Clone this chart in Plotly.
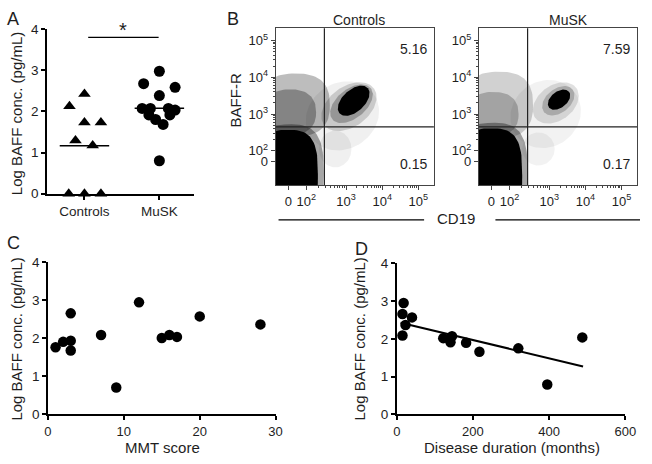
import numpy as np
import plotly.graph_objects as go

W, H = 652, 464

# ---------------- Panel A data ----------------
groups = ["Controls", "MuSK"]
controls_vals = [2.42, 2.12, 1.73, 1.73, 1.29, 1.17, 0.0, 0.0, 0.0]
controls_jitter = [0.0, -0.20, 0.0, 0.22, -0.12, 0.11, -0.21, 0.0, 0.22]
musk_vals = [2.97, 2.67, 2.58, 2.38, 2.07, 2.07, 2.07, 2.03, 1.91, 1.91, 1.80, 1.68, 0.80]
musk_jitter = [0.0, -0.21, 0.21, 0.0, -0.23, -0.12, 0.12, 0.21, -0.14, 0.14, -0.05, 0.05, 0.0]

# ---------------- Panel C data ----------------
mmt_score = [1, 2, 3, 3, 3, 7, 9, 12, 15, 16, 17, 20, 28]
baff_c = [1.77, 1.91, 1.94, 1.68, 2.66, 2.09, 0.71, 2.95, 2.01, 2.09, 2.04, 2.58, 2.37]

# ---------------- Panel D data ----------------
duration = [18, 15, 15, 23, 40, 122, 141, 145, 182, 217, 319, 395, 487]
baff_d = [2.95, 2.66, 2.09, 2.37, 2.57, 2.02, 1.91, 2.07, 1.90, 1.66, 1.75, 0.79, 2.04]

# ---------------- Panel B (flow) data, in display units ----------------
flow_tick_text = ["0", "10<sup>2</sup>", "10<sup>3</sup>", "10<sup>4</sup>", "10<sup>5</sup>"]
flow_x_tickvals = [0, 0.5, 1.6, 2.6, 3.6]
flow_y_tickvals = [0, 0.3, 1.3, 2.3, 3.3]
flow_titles = ["Controls", "MuSK"]
pct_upper_right = ["5.16", "7.59"]
pct_lower_right = ["0.15", "0.17"]
gate_cd19 = 1.0
gate_baffr = 0.95

# cell populations (density blobs): centre, spread, tilt, squareness, density
ctrl_cx = [1.50, 1.30, 0.20, 0.05, 1.68, 1.75, 0.03, 0.00, 1.81]
ctrl_cy = [1.25, 0.35, 1.55, 1.35, 1.50, 1.58, -0.30, -0.35, 1.66]
ctrl_rx = [1.05, 0.45, 0.95, 0.72, 0.85, 0.68, 0.95, 0.82, 0.52]
ctrl_ry = [0.90, 0.50, 0.85, 0.62, 0.55, 0.40, 1.32, 1.22, 0.30]
ctrl_ang = [30, 0, 0, 0, 35, 38, 0, 0, 41]
ctrl_sq = [2.0, 2.0, 2.6, 2.4, 2.0, 2.0, 3.0, 3.0, 2.0]
ctrl_dens = [0.06, 0.06, 0.26, 0.30, 0.16, 0.25, 0.35, 1.0, 1.0]

musk_cx = [1.50, 1.30, 0.20, 0.05, 1.78, 1.85, 0.03, 0.00, 1.87]
musk_cy = [1.30, 0.35, 1.55, 1.30, 1.60, 1.66, -0.30, -0.35, 1.69]
musk_rx = [1.00, 0.45, 0.95, 0.70, 0.70, 0.50, 0.97, 0.85, 0.35]
musk_ry = [0.90, 0.45, 0.90, 0.60, 0.48, 0.33, 1.36, 1.26, 0.22]
musk_ang = [30, 0, 0, 0, 35, 37, 0, 0, 37]
musk_sq = [2.0, 2.0, 2.6, 2.4, 2.0, 2.0, 3.0, 3.0, 2.0]
musk_dens = [0.05, 0.05, 0.18, 0.22, 0.12, 0.20, 0.35, 1.0, 1.0]

FONT = "Liberation Sans, Arial, sans-serif"
TXT = "#1e1e1e"


def px(x):
    return x / W


def py(y):
    return 1 - y / H


def blob(cx, cy, rx, ry, ang, n, m=90):
    t = np.linspace(0, 2 * np.pi, m)
    c, s = np.cos(t), np.sin(t)
    x = np.sign(c) * np.abs(c) ** (2 / n) * rx
    y = np.sign(s) * np.abs(s) ** (2 / n) * ry
    a = np.deg2rad(ang)
    return cx + x * np.cos(a) - y * np.sin(a), cy + x * np.sin(a) + y * np.cos(a)


fig = go.Figure()

# ---------- Panel A ----------
fig.add_trace(go.Scatter(
    x=[1 + j for j in controls_jitter], y=controls_vals, mode="markers",
    marker=dict(symbol="triangle-up", size=11, color="black"),
    xaxis="x", yaxis="y", cliponaxis=False, showlegend=False))
fig.add_trace(go.Scatter(
    x=[2 + j for j in musk_jitter], y=musk_vals, mode="markers",
    marker=dict(symbol="circle", size=11, color="black"),
    xaxis="x", yaxis="y", cliponaxis=False, showlegend=False))
for i, vals in enumerate([controls_vals, musk_vals]):
    m = float(np.mean(vals))
    fig.add_trace(go.Scatter(x=[i + 1 - 0.33, i + 1 + 0.33], y=[m, m], mode="lines",
                             line=dict(color="black", width=1.5), xaxis="x", yaxis="y",
                             showlegend=False))

# ---------- Panel B ----------
for k, (cxs, cys, rxs, rys, angs, sqs, dens) in enumerate([
        (ctrl_cx, ctrl_cy, ctrl_rx, ctrl_ry, ctrl_ang, ctrl_sq, ctrl_dens),
        (musk_cx, musk_cy, musk_rx, musk_ry, musk_ang, musk_sq, musk_dens)]):
    xa, ya = ("x2", "y2") if k == 0 else ("x3", "y3")
    for cx, cy, rx, ry, ang, n, d in zip(cxs, cys, rxs, rys, angs, sqs, dens):
        bx, by = blob(cx, cy, rx, ry, ang, n)
        fig.add_trace(go.Scatter(x=bx, y=by, mode="lines", fill="toself",
                                 fillcolor=f"rgba(0,0,0,{d})", line=dict(width=0),
                                 xaxis=xa, yaxis=ya, showlegend=False, hoverinfo="skip"))
    # gates
    fig.add_trace(go.Scatter(x=[gate_cd19, gate_cd19], y=[-1, 4], mode="lines",
                             line=dict(color="#222", width=1.2), xaxis=xa, yaxis=ya,
                             showlegend=False, hoverinfo="skip"))
    fig.add_trace(go.Scatter(x=[-1, 5], y=[gate_baffr, gate_baffr], mode="lines",
                             line=dict(color="#222", width=1.2), xaxis=xa, yaxis=ya,
                             showlegend=False, hoverinfo="skip"))

# ---------- Panel C ----------
fig.add_trace(go.Scatter(x=mmt_score, y=baff_c, mode="markers",
                         marker=dict(size=10.5, color="black"), xaxis="x4", yaxis="y4",
                         cliponaxis=False, showlegend=False))

# ---------- Panel D ----------
slope, icpt = np.polyfit(duration, baff_d, 1)
xs = np.array([min(duration) - 5, max(duration) + 2])
fig.add_trace(go.Scatter(x=xs, y=slope * xs + icpt, mode="lines",
                         line=dict(color="black", width=2), xaxis="x5", yaxis="y5",
                         showlegend=False))
fig.add_trace(go.Scatter(x=duration, y=baff_d, mode="markers",
                         marker=dict(size=10.5, color="black"), xaxis="x5", yaxis="y5",
                         cliponaxis=False, showlegend=False))

# ---------- Axes ----------
base_ax = dict(showgrid=False, zeroline=False, showline=True, linecolor="black",
               linewidth=1.5, ticks="outside", ticklen=4, tickwidth=1.5, tickcolor="black",
               tickfont=dict(family=FONT, size=13.5, color=TXT), fixedrange=True)
bottom_ax = dict(base_ax, tickfont=dict(family=FONT, size=13, color=TXT))

minor_x = []
for start, span in [(0.5, 1.1), (1.6, 1.0), (2.6, 1.0)]:
    for mult in range(2, 10):
        minor_x.append(start + span * np.log10(mult))
minor_y = []
for start in [0.3, 1.3, 2.3]:
    for mult in range(2, 10):
        minor_y.append(start + np.log10(mult))

flow_x = dict(showgrid=False, zeroline=False, showline=True, mirror=True, linecolor="#444",
              linewidth=1, ticks="outside", ticklen=4, tickcolor="#444",
              range=[-0.35, 4.03], tickvals=flow_x_tickvals, ticktext=flow_tick_text,
              tickfont=dict(family=FONT, size=13, color=TXT), fixedrange=True,
              minor=dict(tickvals=minor_x, ticks="outside", ticklen=2, tickcolor="#444"))
flow_y = dict(showgrid=False, zeroline=False, showline=True, mirror=True, linecolor="#444",
              linewidth=1, ticks="outside", ticklen=4, tickcolor="#444",
              range=[-0.63, 3.63], tickvals=flow_y_tickvals, ticktext=flow_tick_text,
              tickfont=dict(family=FONT, size=13, color=TXT), fixedrange=True,
              minor=dict(tickvals=minor_y, ticks="outside", ticklen=2, tickcolor="#444"))

fig.update_layout(
    width=W, height=H, margin=dict(l=0, r=0, t=0, b=0),
    paper_bgcolor="white", plot_bgcolor="rgba(0,0,0,0)",
    font=dict(family=FONT, color=TXT),
    xaxis=dict(base_ax, domain=[px(44), px(194)], range=[0.5, 2.456], tickvals=[1, 2],
               ticktext=groups, anchor="y"),
    yaxis=dict(base_ax, domain=[py(193), py(22.5)], range=[0, 4], tickvals=[0, 1, 2, 3, 4],
               anchor="x"),
    xaxis2=dict(flow_x, domain=[px(278), px(440)], anchor="y2"),
    yaxis2=dict(flow_y, domain=[py(184), py(22)], anchor="x2"),
    xaxis3=dict(flow_x, domain=[px(486), px(648)], anchor="y3"),
    yaxis3=dict(flow_y, domain=[py(184), py(22)], anchor="x3"),
    xaxis4=dict(bottom_ax, domain=[px(45), px(278)], range=[0, 30], tickvals=[0, 10, 20, 30],
                anchor="y4"),
    yaxis4=dict(base_ax, domain=[py(421), py(264)], range=[0, 4], tickvals=[0, 1, 2, 3, 4],
                anchor="x4"),
    xaxis5=dict(bottom_ax, domain=[px(402), px(636)], range=[0, 600],
                tickvals=[0, 200, 400, 600], anchor="y5"),
    yaxis5=dict(base_ax, domain=[py(421), py(265)], range=[0, 4], tickvals=[0, 1, 2, 3, 4],
                anchor="x5"),
)

ann = []


def text(x, y, s, size=14, angle=0, xanchor="center", yanchor="middle"):
    ann.append(dict(x=px(x), y=py(y), xref="paper", yref="paper", text=s, showarrow=False,
                    font=dict(family=FONT, size=size, color=TXT), textangle=angle,
                    xanchor=xanchor, yanchor=yanchor))


# panel letters
text(9, 12, "A", 18)
text(234, 12, "B", 18)
text(10, 244, "C", 18)
text(366, 250, "D", 18)

# axis titles
ytitle = "Log BAFF conc. (pg/mL)"
text(13, 110, ytitle, 15, -90)
text(13, 343, ytitle, 15, -90)
text(364, 343, ytitle, 15, -90)
text(162, 455, "MMT score", 15)
text(520, 455, "Disease duration (months)", 15)

# significance star
text(122, 24, "*", 20)

# flow texts
text(363, 13, flow_titles[0], 14)
text(578, 13, flow_titles[1], 14)
text(237, 97, "BAFF-R", 15, -90)
text(463, 219, "CD19", 15)
for k, xr in enumerate(["x2", "x3"]):
    ann.append(dict(x=0.97, y=0.93, xref=f"{xr} domain", yref="y2 domain",
                    text=pct_upper_right[k], showarrow=False, xanchor="right",
                    font=dict(family=FONT, size=14, color=TXT)))
    ann.append(dict(x=0.97, y=0.07, xref=f"{xr} domain", yref="y2 domain",
                    text=pct_lower_right[k], showarrow=False, xanchor="right",
                    font=dict(family=FONT, size=14, color=TXT)))

shapes = [
    dict(type="line", xref="x", yref="y", x0=1.05, x1=1.99, y0=3.79, y1=3.79,
         line=dict(color="black", width=1.2)),
    dict(type="line", xref="paper", yref="paper", x0=px(281), x1=px(430), y0=py(220),
         y1=py(220), line=dict(color="black", width=1.2)),
    dict(type="line", xref="paper", yref="paper", x0=px(503), x1=px(651), y0=py(220),
         y1=py(220), line=dict(color="black", width=1.2)),
]

fig.update_layout(annotations=ann, shapes=shapes)
fig.write_html("out.html", config={"displayModeBar": False},
               post_script="document.body.style.margin='0';")
